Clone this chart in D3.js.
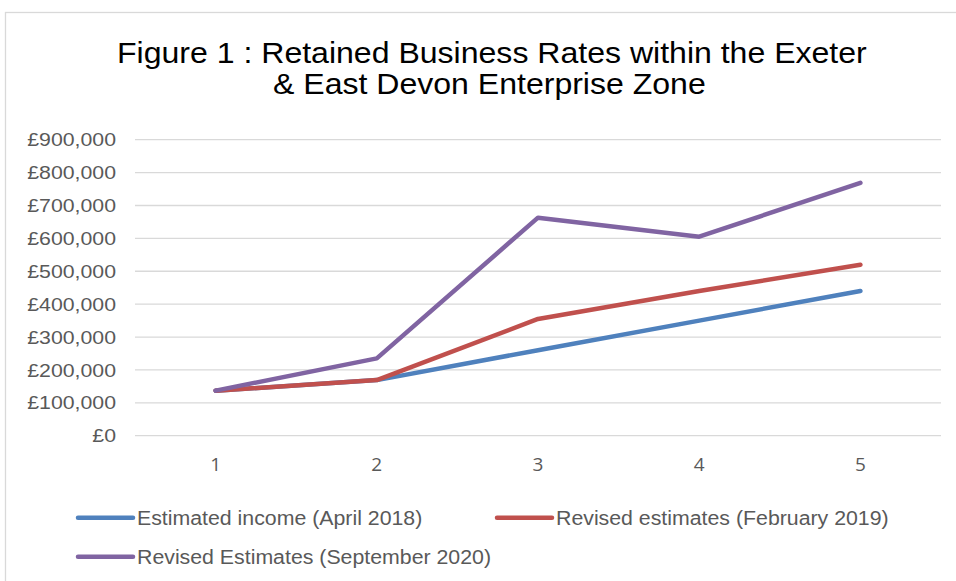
<!DOCTYPE html>
<html>
<head>
<meta charset="utf-8">
<script src="https://cdn.jsdelivr.net/npm/d3@7"></script>
<style>
  body { margin: 0; background: #fff; }
  svg { display: block; }
</style>
</head>
<body>
<div id="chart-area"></div>
<script>
// data
const years = [1, 2, 3, 4, 5];
const estimatedApr2018 = [137000, 169000, 260000, 350000, 440000];
const revisedFeb2019 = [137000, 169000, 355000, 440000, 520000];
const revisedSep2020 = [137000, 235000, 663000, 605000, 769000];
const yTicks = [0, 100000, 200000, 300000, 400000, 500000, 600000, 700000, 800000, 900000];
const titleLines = ["Figure 1 : Retained Business Rates within the Exeter", "& East Devon Enterprise Zone"];

const series = [
    { name: "Estimated income (April 2018)", values: estimatedApr2018, color: "#4F81BD" },
    { name: "Revised estimates (February 2019)", values: revisedFeb2019, color: "#C0504D" },
    { name: "Revised Estimates (September 2020)", values: revisedSep2020, color: "#8064A2" }
];

const W = 956, H = 581;
const margin = { left: 135, right: 15, top: 139.7, bottom: 145.3 };
const width = W - margin.left - margin.right;
const height = H - margin.top - margin.bottom;
const FONT = "Liberation Sans, Arial, sans-serif";

// the source picture is a little wider than tall, so widen the text to match
function stretch(sel, k) {
    sel.each(function() {
        const len = this.getComputedTextLength();
        d3.select(this)
            .attr("textLength", len * k)
            .attr("lengthAdjust", "spacingAndGlyphs");
    });
}

const svg = d3.select("#chart-area")
    .append("svg")
    .attr("width", W)
    .attr("height", H);

// outer chart border
svg.append("rect")
    .attr("x", 5.5)
    .attr("y", 12.5)
    .attr("width", W)
    .attr("height", H)
    .attr("fill", "none")
    .attr("stroke", "#d9d9d9")
    .attr("stroke-width", 1.3);

// Title
const titleX = [117, 273];
const titleY = [63, 93.5];
svg.selectAll(".title")
    .data(titleLines)
    .enter()
    .append("text")
    .attr("class", "title")
    .attr("x", (d, i) => titleX[i])
    .attr("y", (d, i) => titleY[i])
    .attr("font-family", FONT)
    .attr("font-size", "30px")
    .attr("fill", "#000")
    .text(d => d)
    .call(stretch, 1.068);

const g = svg.append("g")
    .attr("transform", "translate(" + margin.left + ", " + margin.top + ")");

// X Scale
const x = d3.scaleBand()
    .domain(years)
    .range([0, width]);

// Y Scale
const y = d3.scaleLinear()
    .domain([0, 900000])
    .range([height, 0]);

// gridlines
g.append("g")
    .selectAll("line")
    .data(yTicks)
    .enter()
    .append("line")
    .attr("x1", 0)
    .attr("x2", width)
    .attr("y1", d => y(d))
    .attr("y2", d => y(d))
    .attr("stroke", "#d9d9d9")
    .attr("stroke-width", 1.3);

// Y Axis
const yAxisCall = d3.axisLeft(y)
    .tickValues(yTicks)
    .tickSize(0)
    .tickPadding(19)
    .tickFormat(d => "£" + d3.format(",")(d));
const yAxisGroup = g.append("g").call(yAxisCall);
yAxisGroup.select(".domain").remove();
yAxisGroup.selectAll("text")
    .attr("font-family", FONT)
    .attr("font-size", "19px")
    .attr("fill", "#595959")
    .call(stretch, 1.12);

// X Axis
const xAxisCall = d3.axisBottom(x).tickSize(0).tickPadding(22);
const xAxisGroup = g.append("g")
    .attr("transform", "translate(0," + height + ")")
    .call(xAxisCall);
xAxisGroup.select(".domain").remove();
xAxisGroup.selectAll("text")
    .attr("font-family", "Open Sans, sans-serif")
    .attr("font-size", "19px")
    .attr("fill", "#595959");

// Lines
const line = d3.line()
    .x((d, i) => x(years[i]) + x.bandwidth() / 2)
    .y(d => y(d));

g.selectAll(".series")
    .data(series)
    .enter()
    .append("path")
    .attr("class", "series")
    .attr("d", d => line(d.values))
    .attr("fill", "none")
    .attr("stroke", d => d.color)
    .attr("stroke-width", 4.5)
    .attr("stroke-linecap", "round")
    .attr("stroke-linejoin", "round");

// Legend
const legendPos = [
    { x: 78, y: 517.7 },
    { x: 497, y: 517.7 },
    { x: 78, y: 556.7 }
];
const legend = svg.selectAll(".legend")
    .data(series)
    .enter()
    .append("g")
    .attr("class", "legend")
    .attr("transform", (d, i) => "translate(" + legendPos[i].x + "," + legendPos[i].y + ")");

legend.append("line")
    .attr("x1", 0)
    .attr("x2", 55)
    .attr("stroke", d => d.color)
    .attr("stroke-width", 4.5)
    .attr("stroke-linecap", "round");

legend.append("text")
    .attr("x", 59)
    .attr("y", 7.3)
    .attr("font-family", FONT)
    .attr("font-size", "20px")
    .attr("fill", "#595959")
    .text(d => d.name)
    .call(stretch, 1.065);
</script>
</body>
</html>
